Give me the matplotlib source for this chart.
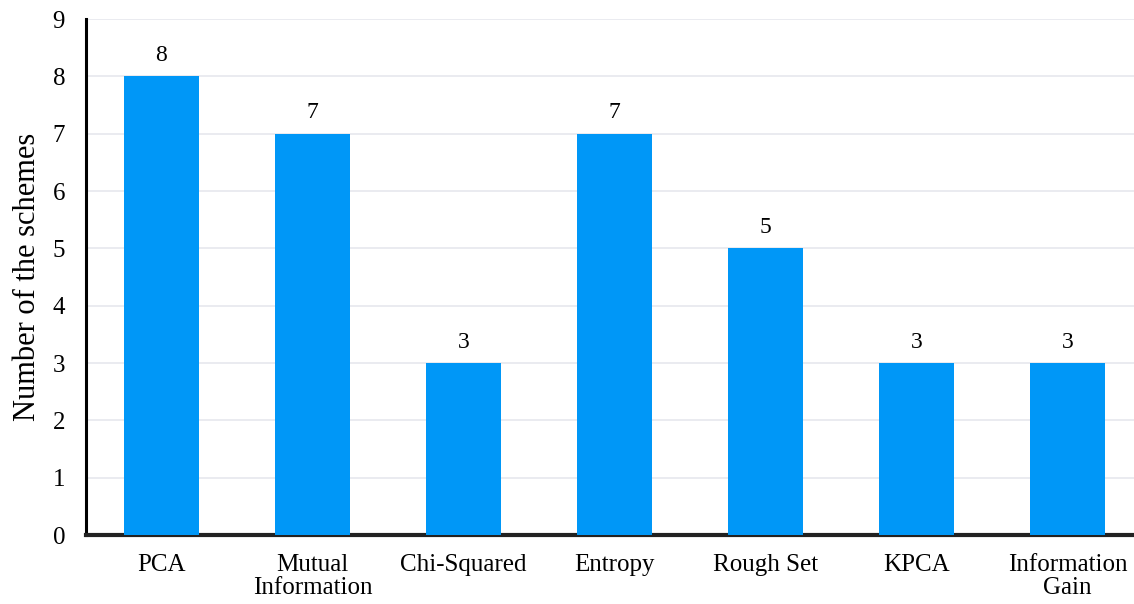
import matplotlib.pyplot as plt
import numpy as np

plt.rcParams['font.family'] = ['Liberation Serif', 'DejaVu Serif']

categories = ['PCA', 'Mutual\nInformation', 'Chi-Squared', 'Entropy',
              'Rough Set', 'KPCA', 'Information\nGain']
counts = [8, 7, 3, 7, 5, 3, 3]

fig = plt.figure(figsize=(11.34, 6.04), dpi=100)
ax = fig.add_axes([0.0758, 0.1142, 0.9242, 0.8543])

x = np.arange(len(categories))
ax.bar(x, counts, width=0.5, color='#0097F7', zorder=3)

# value labels above each bar
for xi, val in zip(x, counts):
    ax.text(xi, val + 0.18, str(val), ha='center', va='bottom', fontsize=17)

ax.set_xlim(-0.5, 6.44)
ax.set_ylim(0, 9)
ax.set_yticks(range(10))
ax.set_xticks(x)
ax.set_xticklabels(categories, fontsize=18, linespacing=1.05)
ax.tick_params(axis='y', labelsize=18, length=0, pad=15)
ax.tick_params(axis='x', length=0, pad=14)
ax.set_ylabel('Number of the schemes', fontsize=22, labelpad=8)

ax.grid(axis='y', color='#e6e8ee', linewidth=1.2, zorder=0)
for side in ['top', 'right']:
    ax.spines[side].set_visible(False)
ax.spines['left'].set_linewidth(2.2)
ax.spines['bottom'].set_linewidth(3)
ax.spines['bottom'].set_color('#222222')

fig.savefig('out.png', dpi=100)
